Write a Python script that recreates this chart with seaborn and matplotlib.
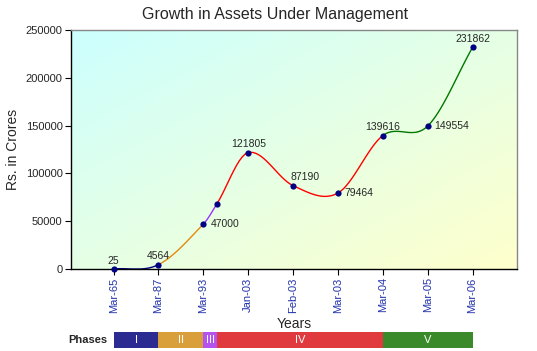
import numpy as np
import pandas as pd
import matplotlib
matplotlib.use("Agg")
import matplotlib.pyplot as plt
import seaborn as sns

# ---- data ----
categories = ["Mar-65", "Mar-87", "Mar-93", "Jan-03", "Feb-03", "Mar-03", "Mar-04", "Mar-05", "Mar-06"]
point_x = [0, 1, 2, 2.3, 3, 4, 5, 6, 7, 8]
point_values = [25, 4564, 47000, 68000, 121805, 87190, 79464, 139616, 149554, 231862]
point_labels = ["25", "4564", "47000", "", "121805", "87190", "79464", "139616", "149554", "231862"]
phase_names = ["I", "II", "III", "IV", "V"]
phase_bounds = [0, 1, 2, 2.3, 6, 8]
line_colors = ["#000080", "#e08a10", "#9933ff", "#ff0000", "#007700"]
bar_colors = ["#2b2b91", "#d99f3a", "#b453f0", "#e0393e", "#3a8a2a"]

sns.set_style("white")
plt.rcParams['font.family'] = ['Liberation Sans', 'DejaVu Sans']


def cardinal_spline(x, y, xs):
    """Catmull-Rom style Hermite spline through the points."""
    x = np.asarray(x, float); y = np.asarray(y, float)
    n = len(x)
    m = np.zeros(n)
    m[0] = (y[1] - y[0]) / (x[1] - x[0])
    m[-1] = (y[-1] - y[-2]) / (x[-1] - x[-2])
    for i in range(1, n - 1):
        m[i] = (y[i + 1] - y[i - 1]) / (x[i + 1] - x[i - 1])
    out = np.empty(len(xs))
    for k, t in enumerate(xs):
        i = min(max(np.searchsorted(x, t, side="right") - 1, 0), n - 2)
        h = x[i + 1] - x[i]
        s = (t - x[i]) / h
        h00 = 2 * s ** 3 - 3 * s ** 2 + 1
        h10 = s ** 3 - 2 * s ** 2 + s
        h01 = -2 * s ** 3 + 3 * s ** 2
        h11 = s ** 3 - s ** 2
        out[k] = h00 * y[i] + h10 * h * m[i] + h01 * y[i + 1] + h11 * h * m[i + 1]
    return out


rows = []
for p, (a, b) in enumerate(zip(phase_bounds[:-1], phase_bounds[1:])):
    xs = np.linspace(a, b, 60)
    ys = np.maximum(cardinal_spline(point_x, point_values, xs), 0)
    for xv, yv in zip(xs, ys):
        rows.append({"x": xv, "y": yv, "phase": phase_names[p]})
curve = pd.DataFrame(rows)
pts = pd.DataFrame({"x": point_x, "y": point_values})

fig = plt.figure(figsize=(5.37, 3.51), dpi=100)
ax = fig.add_axes([71 / 537, 1 - 269 / 351, (517 - 71) / 537, (269 - 30) / 351])
xlim = (-0.95, 8.99)
ylim = (0, 250000)

# gradient background: cyan top-left -> light yellow bottom-right
gx = np.linspace(0, 1, 200)
gy = np.linspace(0, 1, 200)
GX, GY = np.meshgrid(gx, gy)
t = np.clip((GX + GY) / 2, 0, 1)[..., None]
c0 = np.array([204, 255, 255]) / 255
c1 = np.array([255, 255, 204]) / 255
img = c0 * (1 - t) + c1 * t
ax.imshow(img, extent=[xlim[0], xlim[1], ylim[0], ylim[1]], aspect='auto', zorder=0, origin='upper')

sns.lineplot(data=curve, x="x", y="y", hue="phase", palette=dict(zip(phase_names, line_colors)),
             sort=False, estimator=None, linewidth=1.0, legend=False, ax=ax, zorder=2)
sns.scatterplot(data=pts, x="x", y="y", color="#000080", s=20, edgecolor="#000080", linewidth=0,
                legend=False, ax=ax, zorder=3, clip_on=False)

for xv, yv, lab in zip(point_x, point_values, point_labels):
    if not lab:
        continue
    if lab in ("47000", "79464", "149554"):
        ax.annotate(lab, (xv, yv), xytext=(5, 0), textcoords="offset points", fontsize=7.5,
                    ha="left", va="center", zorder=4)
    elif lab == "87190":
        ax.annotate(lab, (xv, yv), xytext=(-2, 2.5), textcoords="offset points", fontsize=7.5,
                    ha="left", va="bottom", zorder=4)
    else:
        ax.annotate(lab, (xv, yv), xytext=(0, 2.5), textcoords="offset points", fontsize=7.5,
                    ha="center", va="bottom", zorder=4)

ax.set_xlim(*xlim)
ax.set_ylim(*ylim)
ax.set_xticks(range(len(categories)))
ax.set_xticklabels(categories, rotation=90, color="#2233aa", fontsize=8)
ax.set_yticks(np.arange(0, 250001, 50000))
ax.set_yticklabels([str(v) for v in range(0, 250001, 50000)], fontsize=8)
ax.tick_params(axis="both", direction="out", length=4, width=0.8, color="black", pad=2, bottom=True, left=True)
ax.set_xlabel("Years", fontsize=10, labelpad=3)
ax.set_ylabel("Rs. in Crores", fontsize=10, labelpad=4)
for s in ("top", "right"):
    ax.spines[s].set_color("#888888")
    ax.spines[s].set_linewidth(1)
for s in ("left", "bottom"):
    ax.spines[s].set_color("black")
    ax.spines[s].set_linewidth(1)

fig.text(275 / 537, 1 - 15 / 351, "Growth in Assets Under Management", ha="center", va="center", fontsize=11.5)

# phases bar
bax = fig.add_axes([71 / 537, 1 - 348 / 351, (517 - 71) / 537, 16 / 351])
bax.set_xlim(*xlim)
bax.set_ylim(0, 1)
lefts = phase_bounds[:-1]
widths = [b - a for a, b in zip(phase_bounds[:-1], phase_bounds[1:])]
bax.barh([0.5] * len(lefts), widths, left=lefts, height=1, color=bar_colors, edgecolor="none")
for a, w, name in zip(lefts, widths, phase_names):
    bax.text(a + w / 2, 0.5, name, color="white", ha="center", va="center", fontsize=8)
bax.axis("off")
fig.text(88 / 537, 1 - 340 / 351, "Phases", ha="center", va="center", fontsize=8, fontweight="bold")

fig.savefig("out.png", dpi=100)
